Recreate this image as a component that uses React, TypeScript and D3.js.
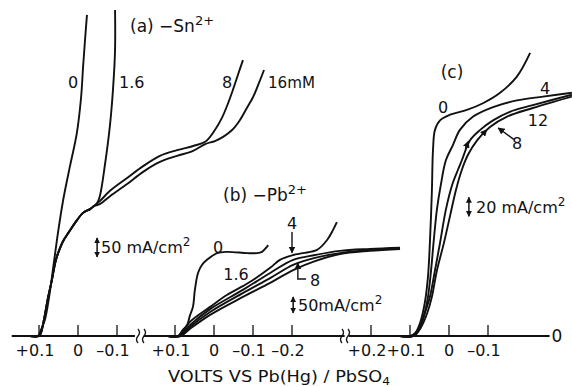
import React from 'react';
import * as d3 from 'd3';

const width = 572;
const height = 387;
const baseY = 336;

// panel (a) -Sn2+ : [volts, mA/cm2]
const snTrunk = [[0.123,0],[0.1,0],[0.095,8],[0.09,29],[0.085,55],[0.077,100],[0.067,147],[0.058,195],[0.051,218],[0.038,250],[0.023,274],[0.008,297],[-0.013,324],[-0.031,334],[-0.041,342]];
const snZero = [[0.123,0],[0.103,0],[0.095,16],[0.085,42],[0.074,103],[0.062,192],[0.051,274],[0.038,358],[0.021,445],[0.003,534],[-0.008,629],[-0.013,708],[-0.018,779],[-0.023,845]];
const snOneSix = [...snTrunk, [-0.049,350],[-0.056,368],[-0.069,450],[-0.082,555],[-0.09,653],[-0.095,753],[-0.095,858]];
const snEight = [...snTrunk, [-0.056,355],[-0.082,382],[-0.126,416],[-0.167,447],[-0.21,474],[-0.254,489],[-0.295,500],[-0.326,511],[-0.351,542],[-0.369,574],[-0.385,613],[-0.397,647],[-0.41,687],[-0.423,726]];
const snSixteen = [...snTrunk, [-0.056,347],[-0.082,368],[-0.126,400],[-0.167,432],[-0.21,458],[-0.254,474],[-0.295,487],[-0.326,505],[-0.351,513],[-0.372,524],[-0.395,542],[-0.415,568],[-0.433,600],[-0.449,629],[-0.464,666],[-0.477,700]];

// panel (b) -Pb2+
const pbZero = [[0.118,0],[0.092,0],[0.08,19],[0.069,34],[0.062,63],[0.054,91],[0.049,144],[0.041,197],[0.031,222],[0.018,238],[-0.008,259],[-0.033,263],[-0.085,259],[-0.11,259],[-0.123,263],[-0.133,275],[-0.139,284]];
const pbOneSix = [[0.118,0],[0.092,0],[0.062,44],[0.01,91],[-0.033,128],[-0.074,156],[-0.1,175],[-0.144,213],[-0.169,238],[-0.203,253],[-0.228,259],[-0.264,269],[-0.29,300],[-0.305,331],[-0.315,356]];
const pbFour = [[0.118,0],[0.09,0],[0.062,34],[0.01,84],[-0.074,144],[-0.144,197],[-0.203,238],[-0.259,253],[-0.323,266],[-0.4,272],[-0.477,276]];
const pbEight = [[0.118,0],[0.087,0],[0.062,28],[0.01,75],[-0.074,134],[-0.144,181],[-0.203,222],[-0.259,244],[-0.323,259],[-0.4,269],[-0.477,274]];
const pbSixteen = [[0.118,0],[0.085,0],[0.062,22],[0.01,66],[-0.074,122],[-0.144,166],[-0.203,206],[-0.259,234],[-0.323,256],[-0.4,266],[-0.477,272]];

// panel (c)
const cZero = [[0.126,0],[0.1,0],[0.087,3],[0.074,14],[0.062,35],[0.054,62],[0.049,98],[0.044,151],[0.041,196],[0.036,217],[0.023,227],[-0.003,233],[-0.046,238],[-0.087,245],[-0.131,256],[-0.174,273],[-0.208,298]];
const cFour = [[0.126,0],[0.095,0],[0.08,6],[0.064,22],[0.054,41],[0.046,69],[0.039,101],[0.031,133],[0.021,159],[0.008,185],[-0.01,201],[-0.028,217],[-0.062,231],[-0.113,241],[-0.174,248],[-0.241,252],[-0.315,256]];
const cEight = [[0.126,0],[0.092,0],[0.074,9],[0.062,24],[0.049,41],[0.036,69],[0.023,98],[0.008,133],[-0.008,159],[-0.023,175],[-0.033,185],[-0.054,206],[-0.08,217],[-0.113,227],[-0.156,236],[-0.215,243],[-0.315,254]];
const cTwelve = [[0.126,0],[0.09,0],[0.072,9],[0.056,24],[0.044,41],[0.031,69],[0.013,98],[-0.003,127],[-0.018,154],[-0.033,175],[-0.049,191],[-0.072,206],[-0.105,220],[-0.149,231],[-0.215,240],[-0.315,252]];

const ticksA = [0.1, 0, -0.1];
const ticksB = [0.1, 0, -0.1, -0.2];
const ticksC = [0.2, 0.1, 0, -0.1];

const xA = d3.scaleLinear().domain([0.1, -0.1]).range([39, 117]);
const yA = d3.scaleLinear().domain([0, 50]).range([baseY, baseY - 19]);
const xB = d3.scaleLinear().domain([0.1, -0.2]).range([175, 292]);
const yB = d3.scaleLinear().domain([0, 50]).range([baseY, baseY - 16]);
const xC = d3.scaleLinear().domain([0.2, -0.1]).range([371, 488]);
const yC = d3.scaleLinear().domain([0, 20]).range([baseY, baseY - 19]);

const lineFor = (x, y) => d3.line().x(d => x(d[0])).y(d => y(d[1])).curve(d3.curveCatmullRom.alpha(0.5));

const fmt = v => v === 0 ? '0' : (v > 0 ? '+' : '–') + Math.abs(v).toFixed(1);

const font = 'DejaVu Sans, sans-serif';
const ink = '#111';

const Squiggle = ({ x }) => (
  <g fill="none" stroke={ink} strokeWidth="1.3">
    <path d={`M${x - 4},${baseY + 7} q-3,-3.5 0,-7 q3,-3.5 0,-7`} />
    <path d={`M${x + 2},${baseY + 7} q-3,-3.5 0,-7 q3,-3.5 0,-7`} />
  </g>
);

export default function App() {
  const lA = lineFor(xA, yA);
  const lB = lineFor(xB, yB);
  const lC = lineFor(xC, yC);

  const curves = [
    snZero.length && lA(snZero), lA(snOneSix), lA(snEight), lA(snSixteen),
    lB(pbZero), lB(pbOneSix), lB(pbFour), lB(pbEight), lB(pbSixteen),
    lC(cZero), lC(cFour), lC(cEight), lC(cTwelve),
  ];

  const tickSets = [
    { x: xA, ticks: ticksA },
    { x: xB, ticks: ticksB },
    { x: xC, ticks: ticksC },
  ];

  // double-headed scale bars
  const bars = [
    { x: xA(-0.049), y1: yA(208), y2: yA(258) },
    { x: xB(-0.203), y1: yB(72), y2: yB(122) },
    { x: xC(-0.051), y1: yC(126), y2: yC(146) },
  ];

  return (
    <svg width={width} height={height} style={{ position: 'absolute', left: 0, top: 0, background: '#fff' }}>
      <defs>
        <marker id="ah" viewBox="0 0 10 10" refX="9" refY="5" markerWidth="7" markerHeight="7"
          markerUnits="userSpaceOnUse" orient="auto-start-reverse">
          <path d="M0,0 L10,5 L0,10 z" fill={ink} />
        </marker>
        <marker id="ahs" viewBox="0 0 10 10" refX="9" refY="5" markerWidth="6" markerHeight="6"
          markerUnits="userSpaceOnUse" orient="auto-start-reverse">
          <path d="M0,0 L10,5 L0,10 z" fill={ink} />
        </marker>
      </defs>

      {/* axis line with breaks */}
      <g stroke={ink} strokeWidth="2" fill="none">
        <line x1={xA(0.17)} x2={xA(-0.146)} y1={baseY} y2={baseY} />
        <line x1={xB(0.18)} x2={xB(-0.335)} y1={baseY} y2={baseY} />
        <line x1={xC(0.257)} x2={xC(-0.258)} y1={baseY} y2={baseY} />
      </g>
      <Squiggle x={142} />
      <Squiggle x={346} />

      {tickSets.map((s, i) => (
        <g key={i}>
          {s.ticks.map(t => (
            <g key={t}>
              <line x1={s.x(t)} x2={s.x(t)} y1={baseY} y2={baseY - 11} stroke={ink} strokeWidth="1.3" />
              <text x={s.x(t) - (t === 0 ? 0 : 4)} y={baseY + 20} textAnchor="middle"
                fontFamily={font} fontSize="16" fill={ink}>{fmt(t)}</text>
            </g>
          ))}
        </g>
      ))}
      <text x={557} y={baseY + 6} textAnchor="middle" fontFamily={font} fontSize="17" fill={ink}>0</text>

      {curves.map((d, i) => (
        <path key={i} d={d} fill="none" stroke={ink} strokeWidth="1.9" strokeLinejoin="round" />
      ))}

      {bars.map((b, i) => (
        <line key={i} x1={b.x} x2={b.x} y1={b.y1} y2={b.y2} stroke={ink} strokeWidth="1.5"
          markerStart="url(#ahs)" markerEnd="url(#ahs)" />
      ))}

      {/* pointer arrows */}
      <g stroke={ink} strokeWidth="1.4" fill="none">
        <line x1={xB(-0.2)} x2={xB(-0.2)} y1={yB(325)} y2={yB(260)} markerEnd="url(#ah)" />
        <polyline points={`${xB(-0.236)},${yB(178)} ${xB(-0.215)},${yB(178)} ${xB(-0.215)},${yB(228)}`} markerEnd="url(#ah)" />
        <line x1={xC(-0.166)} y1={yC(207)} x2={xC(-0.126)} y2={yC(219)} markerEnd="url(#ah)" />
        <line x1={xC(-0.042)} y1={yC(197)} x2={xC(-0.05)} y2={yC(205)} markerEnd="url(#ah)" />
        <line x1={xC(-0.088)} y1={yC(213)} x2={xC(-0.097)} y2={yC(217)} markerEnd="url(#ah)" />
      </g>

      <g fontFamily={font} fill={ink} fontSize="16">
        <text x={130} y={32} fontSize="17">(a) −Sn<tspan dy={-7} fontSize="13">2+</tspan></text>
        <text x={73} y={88} textAnchor="middle">0</text>
        <text x={119} y={88}>1.6</text>
        <text x={227} y={88} textAnchor="middle">8</text>
        <text x={268} y={88} textLength="47" lengthAdjust="spacingAndGlyphs">16mM</text>
        <text x={101} y={253}>50 mA/cm<tspan dy={-7} fontSize="12">2</tspan></text>

        <text x={223} y={201} fontSize="17">(b) −Pb<tspan dy={-7} fontSize="13">2+</tspan></text>
        <text x={218} y={253} textAnchor="middle">0</text>
        <text x={236} y={280} textAnchor="middle">1.6</text>
        <text x={292} y={229} textAnchor="middle">4</text>
        <text x={315} y={286} textAnchor="middle">8</text>
        <text x={298} y={311}>50mA/cm<tspan dy={-7} fontSize="12">2</tspan></text>

        <text x={452} y={78} textAnchor="middle" fontSize="17">(c)</text>
        <text x={443} y={113} textAnchor="middle">0</text>
        <text x={545} y={94} textAnchor="middle">4</text>
        <text x={538} y={126} textAnchor="middle">12</text>
        <text x={517} y={149} textAnchor="middle">8</text>
        <text x={476} y={213}>20 mA/cm<tspan dy={-7} fontSize="12">2</tspan></text>

        <text x={168} y={382} fontSize="16" textLength="222" lengthAdjust="spacingAndGlyphs">
          VOLTS VS Pb(Hg) / PbSO<tspan dy={3} fontSize="11">4</tspan>
        </text>
      </g>
    </svg>
  );
}
